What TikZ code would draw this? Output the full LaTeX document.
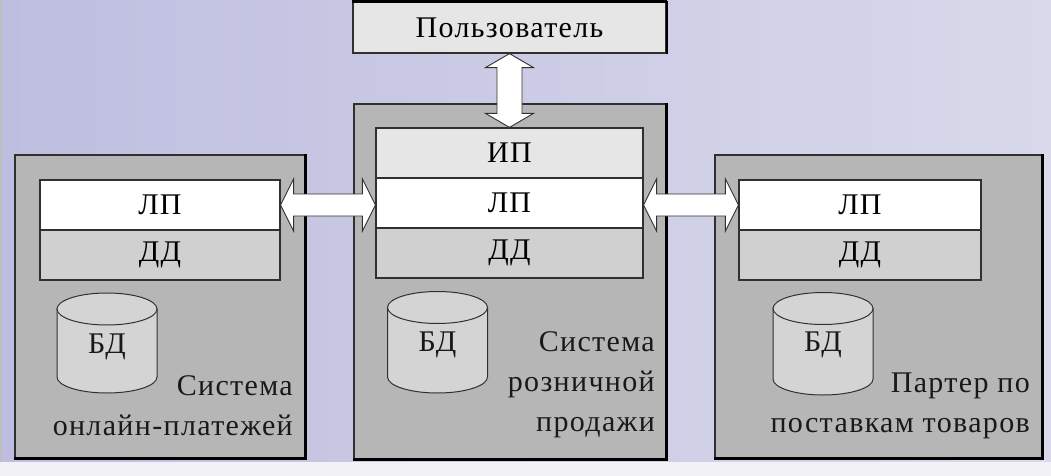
\documentclass[tikz,border=0pt]{standalone}
\usepackage{fontspec}
\setmainfont[LetterSpace=4.5]{Liberation Serif}
\usetikzlibrary{calc}
\definecolor{bgL}{HTML}{BEBEE0}
\definecolor{bgR}{HTML}{D9D9EB}
\definecolor{bgB}{HTML}{F2F2F6}
\definecolor{sysgray}{HTML}{B6B6B6}
\definecolor{ipgray}{HTML}{E6E6E6}
\definecolor{ddgray}{HTML}{D0D0D0}
\definecolor{cylgray}{HTML}{D4D4D4}
\definecolor{edge}{HTML}{303030}
\newcommand\lblfont{\fontsize{30}{40}\selectfont}
\newcommand\dbcyl[3]{%
  \filldraw[cylst] (#1-50,-#2) -- (#1-50,-#3)
    arc[start angle=180,end angle=360,x radius=50,y radius=16] -- (#1+50,-#2) -- cycle;
  \filldraw[cylst] (#1,-#2) ellipse[x radius=50,y radius=16];}
\newcommand\harrow[2]{%
  \filldraw[arrowst] (#1) -- ($(#1)+(13,26)$) -- ($(#1)+(13,11)$) -- ($(#2)+(-13,11)$)
    -- ($(#2)+(-13,26)$) -- (#2) -- ($(#2)+(-13,-26)$) -- ($(#2)+(-13,-11)$)
    -- ($(#1)+(13,-11)$) -- ($(#1)+(13,-26)$) -- cycle;}
\newcommand\varrow[2]{%
  \filldraw[arrowst] (#1) -- ($(#1)+(-24,-14)$) -- ($(#1)+(-12.5,-14)$) -- ($(#2)+(-12.5,14)$)
    -- ($(#2)+(-24,14)$) -- (#2) -- ($(#2)+(24,14)$) -- ($(#2)+(12.5,14)$)
    -- ($(#1)+(12.5,-14)$) -- ($(#1)+(24,-14)$) -- cycle;}
\newcommand\shadowedge[1]{%
  \draw[black,line width=2.5pt] (#1.south west) -- (#1.south east) -- (#1.north east);}
\begin{document}
\begin{tikzpicture}[x=1pt,y=1pt,
  sysbox/.style={draw=edge,line width=1.2pt,fill=sysgray,inner sep=0pt},
  layer/.style={draw=edge,line width=1.2pt,inner sep=0pt,minimum height=50pt,font=\lblfont},
  lbl/.style={font=\lblfont,inner sep=0pt,text=black!90},
  cylst/.style={draw=edge,line width=1pt,fill=cylgray},
  arrowst/.style={draw=edge,line width=0.9pt,fill=white,line join=miter}]
\useasboundingbox (0,0) rectangle (1051,-476);
\shade[left color=bgL,right color=bgR] (0,0) rectangle (1051,-462);
\fill[bgB] (0,-462) rectangle (1051,-476);
\draw[black!25,line width=1.5pt] (1,0) -- (1,-462);

% user
\node[sysbox,fill=ipgray,minimum width=313pt,minimum height=51pt,font=\lblfont] (user) at (509.5,-27.5) {Пользователь};
\draw[black,line width=4pt] (user.north west) -- (user.north east);
\draw[black,line width=2pt] (user.south east) -- (user.north east);

% systems
\node[sysbox,minimum width=290pt,minimum height=303pt] (lsys) at (160,-306.5) {};
\node[sysbox,minimum width=312pt,minimum height=355pt] (msys) at (510,-281.5) {};
\node[sysbox,minimum width=327pt,minimum height=303pt] (rsys) at (878.5,-306.5) {};
\shadowedge{lsys}\shadowedge{msys}\shadowedge{rsys}

% layers
\node[layer,fill=white,minimum width=240pt] (lLP) at (160,-205) {ЛП};
\node[layer,fill=ddgray,minimum width=240pt] (lDD) at (160,-255) {ДД};
\node[layer,fill=ipgray,minimum width=267pt] (mIP) at (509.5,-153) {ИП};
\node[layer,fill=white,minimum width=267pt] (mLP) at (509.5,-203) {ЛП};
\node[layer,fill=ddgray,minimum width=267pt] (mDD) at (509.5,-253) {ДД};
\node[layer,fill=white,minimum width=242pt] (rLP) at (860,-205) {ЛП};
\node[layer,fill=ddgray,minimum width=242pt] (rDD) at (860,-255) {ДД};

% databases
\dbcyl{107}{309}{377}
\dbcyl{437.5}{307.5}{377}
\dbcyl{823}{308.5}{379}
\node[lbl] (ldb) at (107,-347) {БД};
\node[lbl] (mdb) at (437.5,-345) {БД};
\node[lbl] (rdb) at (823,-345) {БД};

% system labels
\node[lbl,anchor=east,align=right] (lname) at (293,-406) {Система\\онлайн-платежей};
\node[lbl,anchor=east,align=right] (mname) at (655,-385) {Система\\розничной\\продажи};
\node[lbl,anchor=east,align=right] (rname) at (1030,-406) {Партер по\\поставкам товаров};

% arrows
\coordinate (a1) at (lLP.east);
\coordinate (a2) at (mLP.west |- lLP.east);
\harrow{a1}{a2}
\coordinate (b1) at (mLP.east |- rLP.west);
\coordinate (b2) at (rLP.west);
\harrow{b1}{b2}
\varrow{user.south}{mIP.north}
\end{tikzpicture}
\end{document}
